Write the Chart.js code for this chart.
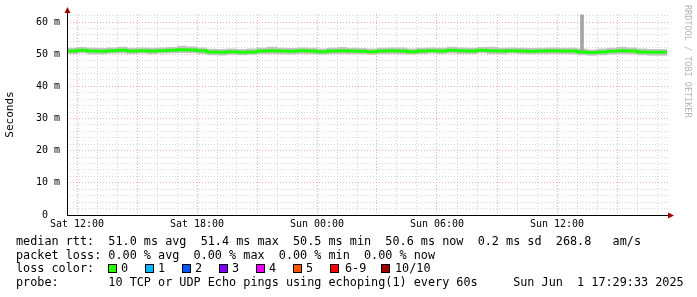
<!DOCTYPE html>
<html>
<head>
<meta charset="utf-8">
<script src="https://cdn.jsdelivr.net/npm/chart.js@4.4.1/dist/chart.umd.min.js"></script>
<style>
body { margin: 0; background: #fff; }
#wrap { position: relative; width: 697px; height: 297px; overflow: hidden; font-family: "DejaVu Sans Mono", monospace; }
canvas { position: absolute; left: 0; top: 0; }
.ln { position: absolute; left: 16px; font-size: 11.8px; line-height: 14px; white-space: pre; color: #000; }
.sq { position: absolute; width: 7px; height: 7px; border: 1px solid #000; top: 264px; }
.lb { position: absolute; font-size: 11.8px; line-height: 14px; top: 261px; white-space: pre; }
#wm { position: absolute; left: 683px; top: 5px; writing-mode: vertical-rl; font-size: 8.5px; color: #b4b4b4; }
</style>
</head>
<body>
<div id="wrap">
<canvas id="rtt_chart" width="697" height="297"></canvas>
<div class="ln" style="top:234px">median rtt:  51.0 ms avg  51.4 ms max  50.5 ms min  50.6 ms now  0.2 ms sd  268.8   am/s</div>
<div class="ln" style="top:248px">packet loss: 0.00 % avg  0.00 % max  0.00 % min  0.00 % now</div>
<div class="ln" style="top:261px">loss color:</div>
<div id="lossLegend"></div>
<div class="ln" style="top:275px">probe:       10 TCP or UDP Echo pings using echoping(1) every 60s     Sun Jun  1 17:29:33 2025</div>
<div id="wm">RRDTOOL / TOBI OETIKER</div>
</div>
<script>
// hours since Sat 00:00, one sample every half hour
var startHour = 11.5;
var stepHour = 0.5;

var medianRtt = [51.1, 51.0, 51.2, 51.0, 50.9, 51.1, 51.2, 51.0, 51.1, 51.0,
                 51.1, 51.2, 51.4, 51.3, 51.1, 50.7, 50.6, 50.8, 50.6, 50.7,
                 51.0, 51.1, 51.0, 50.9, 51.1, 51.0, 50.8, 51.0, 51.1, 51.0,
                 50.9, 50.8, 51.0, 51.1, 51.0, 50.8, 51.0, 51.1, 51.0, 51.2,
                 51.1, 51.0, 51.2, 51.1, 51.0, 51.1, 51.0, 50.9, 51.0, 51.1,
                 51.0, 51.0, 50.7, 50.5, 50.7, 50.9, 51.1, 51.0, 50.7, 50.6, 50.6];
var minRtt = [50.2, 50.1, 50.3, 50.0, 50.0, 50.2, 50.2, 50.1, 50.2, 50.0,
              50.2, 50.3, 50.4, 50.3, 50.1, 49.7, 49.6, 49.8, 49.7, 49.8,
              50.1, 50.1, 50.0, 49.9, 50.1, 50.1, 49.9, 50.1, 50.1, 50.0,
              50.0, 49.8, 50.1, 50.1, 50.0, 49.9, 50.1, 50.2, 50.1, 50.2,
              50.1, 50.1, 50.3, 50.1, 50.0, 50.2, 50.1, 50.0, 50.1, 50.1,
              50.1, 50.0, 49.7, 49.5, 49.7, 49.9, 50.1, 50.0, 49.7, 49.5, 49.5];
var maxRtt = [52.1, 52.0, 52.2, 52.0, 51.9, 52.1, 52.3, 52.0, 52.1, 52.0,
              52.1, 52.2, 52.6, 52.4, 52.1, 51.7, 51.6, 51.8, 51.6, 51.8,
              52.0, 52.3, 52.0, 51.9, 52.1, 52.0, 51.8, 52.0, 52.2, 52.0,
              51.9, 51.8, 52.0, 52.1, 52.1, 51.8, 52.0, 52.1, 52.0, 52.3,
              52.1, 52.0, 52.2, 52.3, 52.0, 52.1, 52.0, 51.9, 52.0, 52.1,
              52.0, 52.0, 51.8, 51.5, 51.8, 52.0, 52.3, 52.1, 51.8, 51.6, 51.6];

// single outlier ping
var spikeHour = [37.25];
var spikeLow = [51.0];
var spikeHigh = [62.2];

var xTickLabels = { 12: 'Sat 12:00', 18: 'Sat 18:00', 24: 'Sun 00:00', 30: 'Sun 06:00', 36: 'Sun 12:00' };
var lossLabels = ['0', '1', '2', '3', '4', '5', '6-9', '10/10'];
var lossColors = ['#26ff00', '#00b8ff', '#0059ff', '#7e00ff', '#ee00ff', '#ff5500', '#ff0000', '#a10000'];
var lossBoxX = [108, 145, 182, 219, 256, 293, 330, 381];
var lossTextX = [121, 158, 195, 232, 269, 306, 345, 395];

function pts(arr) {
    return arr.map(function (v, i) { return { x: startHour + i * stepHour, y: v }; });
}

var legendHtml = '';
lossLabels.forEach(function (l, i) {
    legendHtml += '<div class="sq" style="left:' + lossBoxX[i] + 'px;background:' + lossColors[i] + '"></div>';
    legendHtml += '<div class="lb" style="left:' + lossTextX[i] + 'px">' + l + '</div>';
});
document.getElementById('lossLegend').innerHTML = legendHtml;

var axisArrows = {
    id: 'axisArrows',
    afterDraw: function (chart) {
        var c = chart.ctx, a = chart.chartArea;
        c.save();
        c.strokeStyle = '#000';
        c.lineWidth = 1;
        c.beginPath();
        c.moveTo(a.left + 0.5, a.bottom);
        c.lineTo(a.left + 0.5, 10);
        c.moveTo(a.left, a.bottom + 0.5);
        c.lineTo(a.right + 2, a.bottom + 0.5);
        c.stroke();
        c.fillStyle = '#a00000';
        c.beginPath();
        c.moveTo(a.left + 0.5, 7);
        c.lineTo(a.left - 2.5, 13);
        c.lineTo(a.left + 3.5, 13);
        c.closePath();
        c.fill();
        c.beginPath();
        c.moveTo(a.right + 5, a.bottom + 0.5);
        c.lineTo(a.right - 1, a.bottom - 2.5);
        c.lineTo(a.right - 1, a.bottom + 3.5);
        c.closePath();
        c.fill();
        c.restore();
    }
};

new Chart(document.getElementById('rtt_chart').getContext('2d'), {
    type: 'line',
    data: {
        datasets: [{
            label: 'median',
            data: pts(medianRtt),
            borderColor: '#1cff00',
            borderWidth: 3,
            stepped: 'after',
            pointRadius: 0,
            fill: false
        }, {
            type: 'bar',
            label: 'spike',
            data: spikeHour.map(function (h, i) { return { x: h, y: [spikeLow[i], spikeHigh[i]] }; }),
            backgroundColor: '#a4a4a4',
            barThickness: 3,
            grouped: false
        }, {
            label: 'min',
            data: pts(minRtt),
            borderWidth: 0,
            borderColor: 'rgba(0,0,0,0)',
            stepped: 'after',
            pointRadius: 0,
            fill: false
        }, {
            label: 'max',
            data: pts(maxRtt),
            borderWidth: 0,
            borderColor: 'rgba(0,0,0,0)',
            backgroundColor: '#c4c4c4',
            stepped: 'after',
            pointRadius: 0,
            fill: '-1'
        }]
    },
    options: {
        responsive: false,
        animation: false,
        devicePixelRatio: 1,
        layout: { padding: { left: 0, top: 14, right: 28, bottom: 62 } },
        plugins: { legend: false, tooltip: { enabled: false } },
        scales: {
            x: {
                type: 'linear',
                min: 11.5,
                max: 41.6,
                offset: false,
                afterBuildTicks: function (s) {
                    var t = [];
                    for (var h = 12; h <= 41; h++) t.push({ value: h });
                    s.ticks = t;
                },
                afterFit: function (s) { s.height = 20; },
                ticks: {
                    autoSkip: false,
                    maxRotation: 0,
                    padding: 3,
                    color: '#000',
                    font: { family: 'DejaVu Sans Mono', size: 10 },
                    callback: function (v) { return xTickLabels[v] || ''; }
                },
                grid: {
                    offset: false,
                    drawTicks: false,
                    color: function (ctx) { return ctx.tick && ctx.tick.value % 3 === 0 ? '#f0b0b0' : '#d8d8d8'; }
                },
                border: { display: false, dash: [1, 2] }
            },
            y: {
                min: 0,
                max: 62.5,
                afterBuildTicks: function (s) {
                    var t = [];
                    for (var v = 0; v <= 62; v += 2) t.push({ value: v });
                    s.ticks = t;
                },
                afterFit: function (s) { s.width = 67; },
                ticks: {
                    autoSkip: false,
                    padding: 7,
                    color: '#000',
                    font: { family: 'DejaVu Sans Mono', size: 10 },
                    callback: function (v) { return v % 10 === 0 ? (v === 0 ? '0  ' : v + ' m') : ''; }
                },
                grid: {
                    drawTicks: false,
                    color: function (ctx) { return ctx.tick && ctx.tick.value % 10 === 0 ? '#f0b0b0' : '#d8d8d8'; }
                },
                border: { display: false, dash: [1, 2] },
                title: {
                    display: true,
                    text: 'Seconds',
                    color: '#000',
                    font: { family: 'DejaVu Sans Mono', size: 11 },
                    padding: { top: 4, bottom: 0 }
                }
            }
        }
    },
    plugins: [axisArrows]
});
</script>
</body>
</html>
